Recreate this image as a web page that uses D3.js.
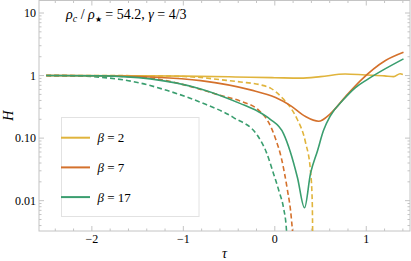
<!DOCTYPE html>
<html>
<head>
<meta charset="utf-8">
<script src="https://cdn.jsdelivr.net/npm/d3@7"></script>
<style>
  html, body { margin: 0; padding: 0; background: #fff; }
</style>
</head>
<body>
<div id="chart"></div>
<script>
// values
const tauSolid2 = [-2.5, -1.5, -1.0, -0.5, -0.27, 0.0, 0.28, 0.5, 0.77, 0.99, 1.2, 1.3, 1.37, 1.4];
const hSolid2   = [1.0, 0.995, 0.98, 0.955, 0.94, 0.925, 0.91, 0.96, 1.06, 1.02, 0.99, 0.96, 1.07, 1.04];

const tauDash2 = [-2.5, -1.5, -1.0, -0.81, -0.6, -0.375, -0.156, -0.047, 0.095, 0.17, 0.245, 0.336, 0.39, 0.409, 0.415];
const hDash2   = [1.0, 0.995, 0.965, 0.93, 0.86, 0.79, 0.71, 0.63, 0.42, 0.31, 0.2, 0.085, 0.03, 0.01, 0.002];

const tauSolid7 = [-2.5, -1.905, -1.36, -0.81, -0.266, 0.008, 0.172, 0.336, 0.478, 0.609, 0.773, 0.937, 1.21, 1.407];
const hSolid7   = [1.0, 0.995, 0.95, 0.83, 0.59, 0.445, 0.331, 0.221, 0.186, 0.247, 0.461, 0.83, 1.74, 2.36];

const tauDash7 = [-2.5, -1.9, -1.6, -1.33, -1.07, -0.81, -0.59, -0.375, -0.178, -0.069, 0.008, 0.073, 0.139, 0.172, 0.2];
const hDash7   = [1.0, 0.985, 0.96, 0.9, 0.76, 0.6, 0.48, 0.39, 0.28, 0.18, 0.098, 0.047, 0.0145, 0.007, 0.0025];

const tauSolid17 = [-2.5, -1.905, -1.36, -0.81, -0.375, -0.19, -0.05, 0.095, 0.17, 0.248, 0.325, 0.39, 0.467, 0.532, 0.609, 0.751, 0.882, 1.01, 1.21, 1.407];
const hSolid17   = [1.0, 0.99, 0.885, 0.61, 0.356, 0.27, 0.2, 0.118, 0.06, 0.0233, 0.0077, 0.027, 0.063, 0.132, 0.229, 0.413, 0.643, 0.863, 1.29, 1.85];

const tauDash17 = [-2.5, -2.2, -1.905, -1.544, -1.173, -0.812, -0.451, -0.189, -0.091, -0.014, 0.051, 0.095, 0.128, 0.14];
const hDash17   = [1.0, 0.99, 0.94, 0.8, 0.575, 0.374, 0.213, 0.11, 0.0587, 0.027, 0.0134, 0.0077, 0.0033, 0.001];

const betas = [2, 7, 17];
const colors = ["#E0B43C", "#D4712C", "#3A9E6F"];
const xTicks = [-2, -1, 0, 1];
const yTicks = [0.01, 0.1, 1, 10];
const yTickLabels = ["0.01", "0.10", "1", "10"];

const width = 411, height = 261;
const mLeft = 39, mRight = 410, mTop = 0.5, mBottom = 231;
const serif = "'Liberation Serif', 'Times New Roman', 'DejaVu Serif', serif";

const x = d3.scaleLinear().domain([-2.578, 1.478]).range([mLeft, mRight]);
const y = d3.scaleLog().domain([Math.pow(10, -2.485), Math.pow(10, 1.2)]).range([mBottom, mTop]);

const svg = d3.select("#chart").append("svg")
  .attr("width", width)
  .attr("height", height)
  .attr("font-family", serif)
  .style("display", "block");

svg.append("defs").append("clipPath").attr("id", "plot-clip")
  .append("rect")
  .attr("x", mLeft).attr("y", mTop)
  .attr("width", mRight - mLeft).attr("height", mBottom - mTop);

const frameColor = "#c4c4c4";

// minor ticks
const xMinor = d3.range(-2.4, 1.5, 0.2).map(v => Math.round(v * 10) / 10).filter(v => !xTicks.includes(v));
const yMinor = [];
for (let e = -3; e <= 1; e++) {
  for (let k = 2; k <= 9; k++) {
    const v = k * Math.pow(10, e);
    if (v > y.domain()[0] && v < y.domain()[1]) yMinor.push(v);
  }
}

const xTickLen = xTicks.map(v => [v, 5]).concat(xMinor.map(v => [v, 2.5]));
const yTickLen = yTicks.map(v => [v, 5]).concat(yMinor.map(v => [v, 2.5]));

const ticks = svg.append("g").attr("stroke", frameColor).attr("stroke-width", 1);

ticks.append("g").selectAll("line").data(xTickLen)
  .join("line")
  .attr("x1", d => x(d[0])).attr("x2", d => x(d[0]))
  .attr("y1", mBottom).attr("y2", d => mBottom - d[1]);
ticks.append("g").selectAll("line").data(xTickLen)
  .join("line")
  .attr("x1", d => x(d[0])).attr("x2", d => x(d[0]))
  .attr("y1", mTop).attr("y2", d => mTop + d[1]);
ticks.append("g").selectAll("line").data(yTickLen)
  .join("line")
  .attr("y1", d => y(d[0])).attr("y2", d => y(d[0]))
  .attr("x1", mLeft).attr("x2", d => mLeft + d[1]);
ticks.append("g").selectAll("line").data(yTickLen)
  .join("line")
  .attr("y1", d => y(d[0])).attr("y2", d => y(d[0]))
  .attr("x1", mRight).attr("x2", d => mRight - d[1]);

svg.append("rect")
  .attr("x", mLeft).attr("y", mTop)
  .attr("width", mRight - mLeft).attr("height", mBottom - mTop)
  .attr("fill", "none")
  .attr("stroke", frameColor);

// tick labels
svg.append("g").selectAll("text").data(xTicks).join("text")
  .attr("x", d => x(d))
  .attr("y", 243)
  .attr("text-anchor", "middle")
  .style("font-size", "12px")
  .text(d => d < 0 ? "\u2212" + Math.abs(d) : d);

svg.append("g").selectAll("text").data(yTicks).join("text")
  .attr("x", 36)
  .attr("y", d => y(d) + 4)
  .attr("text-anchor", "end")
  .style("font-size", "12px")
  .text((d, i) => yTickLabels[i]);

// axis labels
svg.append("text")
  .attr("x", x((x.domain()[0] + x.domain()[1]) / 2))
  .attr("y", 258)
  .attr("text-anchor", "middle")
  .style("font-size", "14px")
  .style("font-style", "italic")
  .text("\u03C4");

svg.append("text")
  .attr("transform", `translate(13,${(mTop + mBottom) / 2}) rotate(-90)`)
  .attr("text-anchor", "middle")
  .style("font-size", "14px")
  .style("font-style", "italic")
  .text("H");

// curves
const line = d3.line()
  .x(d => x(d[0]))
  .y(d => y(d[1]))
  .curve(d3.curveMonotoneX);

const series = [
  { tau: tauDash2, h: hDash2, c: 0, dashed: true },
  { tau: tauDash7, h: hDash7, c: 1, dashed: true },
  { tau: tauDash17, h: hDash17, c: 2, dashed: true },
  { tau: tauSolid2, h: hSolid2, c: 0, dashed: false },
  { tau: tauSolid7, h: hSolid7, c: 1, dashed: false },
  { tau: tauSolid17, h: hSolid17, c: 2, dashed: false }
];

svg.append("g")
  .attr("clip-path", "url(#plot-clip)")
  .selectAll("path")
  .data(series)
  .join("path")
  .attr("d", s => line(s.tau.map((t, i) => [t, s.h[i]])))
  .attr("fill", "none")
  .attr("stroke", s => colors[s.c])
  .attr("stroke-width", 1.6)
  .attr("stroke-dasharray", s => s.dashed ? "5,3" : null);

// parameter label
const title = svg.append("text")
  .attr("x", 66)
  .attr("y", 19)
  .style("font-size", "14px");
title.append("tspan").style("font-style", "italic").text("\u03C1");
title.append("tspan").style("font-style", "italic").style("font-size", "10px").attr("dy", 3).text("c");
title.append("tspan").attr("dy", -3).text(" / ");
title.append("tspan").style("font-style", "italic").text("\u03C1");
title.append("tspan").style("font-size", "8px").attr("dy", 3).text("\u2605");
title.append("tspan").attr("dy", -3).text(" = 54.2, ");
title.append("tspan").style("font-style", "italic").text("\u03B3");
title.append("tspan").text(" = 4/3");

// legend
const legend = svg.append("g");
legend.append("rect")
  .attr("x", 61.5).attr("y", 117.5)
  .attr("width", 137.5).attr("height", 99)
  .attr("fill", "#fff")
  .attr("stroke", "#e2e2e2");

const item = legend.selectAll("g.item").data(betas).join("g")
  .attr("transform", (d, i) => `translate(0,${137.7 + i * 29.7})`);
item.append("line")
  .attr("x1", 61).attr("x2", 90)
  .attr("stroke", (d, i) => colors[i])
  .attr("stroke-width", 2);
const lt = item.append("text")
  .attr("x", 97.5).attr("y", 4.5)
  .style("font-size", "13px");
lt.append("tspan").style("font-style", "italic").text("\u03B2");
lt.append("tspan").text(d => " = " + d);
</script>
</body>
</html>
